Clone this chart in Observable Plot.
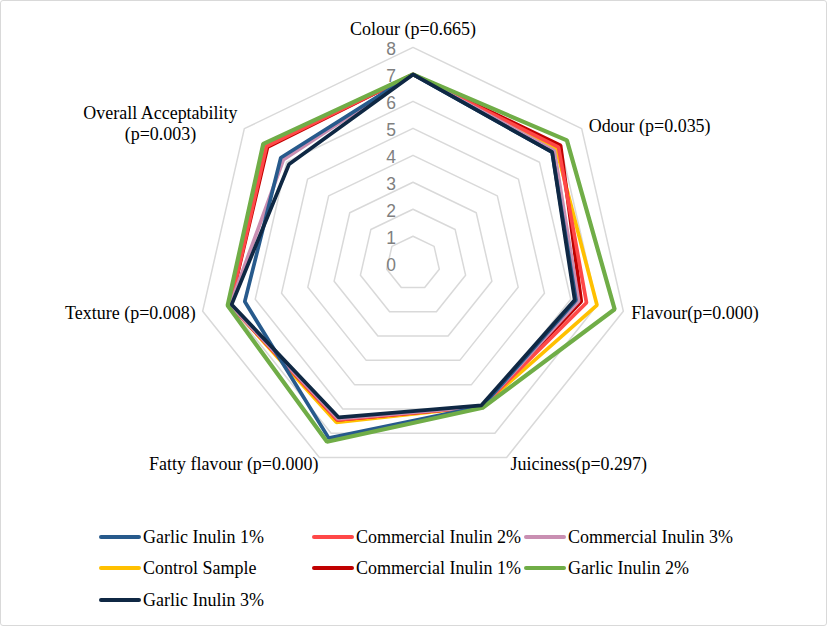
<!DOCTYPE html>
<html>
<head>
<meta charset="utf-8">
<script src="https://cdn.jsdelivr.net/npm/d3@7"></script>
<script src="https://cdn.jsdelivr.net/npm/@observablehq/plot@0.6"></script>
<style>
  body { margin: 0; background: #fff; }
  #wrap { position: relative; width: 827px; height: 626px; box-sizing: border-box; border: 1px solid #d9d9d9; border-radius: 3px; overflow: hidden; background:#fff; }
  #chart { position: absolute; left: -1px; top: -1px; }
  .lg { position: absolute; display: flex; align-items: center; font-family: "Liberation Serif", "Times New Roman", serif; font-size: 18px; color: #000; white-space: nowrap; }
  .lg span.sw { display: inline-block; width: 42px; height: 4px; border-radius: 2px; margin-right: 2px; }
</style>
</head>
<body>
<div id="wrap"><div id="chart"></div></div>
<script>
// ---- data ----
const categories = ["Colour (p=0.665)", "Odour (p=0.035)", "Flavour(p=0.000)", "Juiciness(p=0.297)", "Fatty flavour (p=0.000)", "Texture (p=0.008)", "Overall Acceptability\n(p=0.003)"];
const ticks = [0, 1, 2, 3, 4, 5, 6, 7, 8];
const seriesNames = ["Garlic Inulin 1%", "Commercial Inulin 2%", "Commercial Inulin 3%", "Control Sample", "Commercial Inulin 1%", "Garlic Inulin 2%", "Garlic Inulin 3%"];
const garlic1 =      [7.0, 6.6, 6.2, 5.9, 7.2, 6.4, 6.27];
const commercial2 =  [7.0, 6.9, 6.6, 5.9, 6.45, 6.95, 6.95];
const commercial3 =  [7.0, 6.7, 6.3, 5.9, 6.4, 6.95, 6.15];
const control =      [7.0, 6.8, 7.0, 5.9, 6.55, 6.95, 7.0];
const commercial1 =  [7.0, 7.0, 6.4, 5.9, 6.45, 6.95, 6.9];
const garlic2 =      [7.0, 7.3, 7.67, 5.95, 7.35, 7.05, 7.1];
const garlic3 =      [7.0, 6.6, 6.15, 5.85, 6.35, 6.9, 5.88];

// ---- styles ----
const colors = {
  "Garlic Inulin 1%": "#275a8c",
  "Commercial Inulin 2%": "#ff4848",
  "Commercial Inulin 3%": "#c98fb2",
  "Control Sample": "#ffc000",
  "Commercial Inulin 1%": "#c00000",
  "Garlic Inulin 2%": "#70ad47",
  "Garlic Inulin 3%": "#0f2844"
};
const values = {
  "Garlic Inulin 1%": garlic1,
  "Commercial Inulin 2%": commercial2,
  "Commercial Inulin 3%": commercial3,
  "Control Sample": control,
  "Commercial Inulin 1%": commercial1,
  "Garlic Inulin 2%": garlic2,
  "Garlic Inulin 3%": garlic3
};
const drawOrder = ["Control Sample", "Commercial Inulin 1%", "Commercial Inulin 2%", "Commercial Inulin 3%", "Garlic Inulin 1%", "Garlic Inulin 2%", "Garlic Inulin 3%"];
const widths = {"Garlic Inulin 2%": 4.2};

const n = categories.length;
const ang = i => i * 2 * Math.PI / n;
const px = (r, i) => r * Math.sin(ang(i));
const py = (r, i) => r * Math.cos(ang(i));
const rMax = ticks[ticks.length - 1];

const cx = 413, cy = 263, R = 216;

// ring grid
const ringPts = [];
ticks.filter(t => t > 0).forEach(t => { for (let i = 0; i < n; i++) ringPts.push({t, i}); });

const marks = [];
marks.push(Plot.line(ringPts, {x: d => px(d.t, d.i), y: d => py(d.t, d.i), z: "t", curve: "linear-closed", stroke: "#d9d9d9", strokeWidth: 1.5}));

// tick labels
marks.push(Plot.text(ticks, {x: 0, y: d => d, text: d => String(d), dx: -22, dy: 2, fill: "#7f7f7f", fontSize: 17.5, fontFamily: "'Liberation Sans', Arial, sans-serif"}));

// series
drawOrder.forEach(name => {
  const rows = values[name].map((v, i) => ({v, i}));
  marks.push(Plot.line(rows, {x: d => px(d.v, d.i), y: d => py(d.v, d.i), curve: "linear-closed", stroke: colors[name], strokeWidth: widths[name] || 3.7, strokeLinejoin: "miter"}));
});

// category labels
const labelLayout = [
  {anchor: "middle", dx: 0, dy: -19},
  {anchor: "start", dx: 7, dy: -3},
  {anchor: "start", dx: 8, dy: 1},
  {anchor: "start", dx: 4, dy: 6},
  {anchor: "end", dx: -1, dy: 6},
  {anchor: "end", dx: -7, dy: 1},
  {anchor: "middle", dx: -84, dy: -6}
];
categories.forEach((c, i) => {
  const L = labelLayout[i];
  marks.push(Plot.text([c], {x: px(rMax, i), y: py(rMax, i), text: d => d, textAnchor: L.anchor, dx: L.dx, dy: L.dy, fontSize: 18, lineHeight: 1.17, fill: "#000", fontFamily: "'Liberation Serif', 'Times New Roman', serif"}));
});

const plot = Plot.plot({
  width: 827,
  height: 520,
  x: {type: "linear", domain: [-rMax, rMax], range: [cx - R, cx + R], axis: null},
  y: {type: "linear", domain: [-rMax, rMax], range: [cy + R, cy - R], axis: null},
  style: {background: "transparent", overflow: "visible"},
  marks
});
document.getElementById("chart").appendChild(plot);

// legend
const legendLayout = [
  {x: 99, y: 537}, {x: 312, y: 537}, {x: 524, y: 537},
  {x: 99, y: 568}, {x: 312, y: 568}, {x: 524, y: 568},
  {x: 99, y: 600}
];
const wrap = document.getElementById("wrap");
seriesNames.forEach((name, k) => {
  const el = document.createElement("div");
  el.className = "lg";
  el.style.left = (legendLayout[k].x - 1) + "px";
  el.style.top = (legendLayout[k].y - 12) + "px";
  el.style.height = "22px";
  const sw = document.createElement("span");
  sw.className = "sw";
  sw.style.background = colors[name];
  const tx = document.createElement("span");
  tx.textContent = name;
  el.appendChild(sw); el.appendChild(tx);
  wrap.appendChild(el);
});
</script>
</body>
</html>
